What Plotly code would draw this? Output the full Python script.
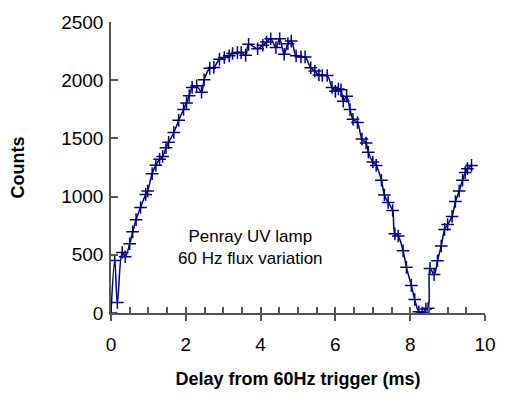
import plotly.graph_objects as go

delay_ms = [0.00, 0.10, 0.17, 0.30, 0.38, 0.50, 0.58, 0.67, 0.79, 0.93, 0.98, 1.10,
            1.20, 1.30, 1.38, 1.47, 1.54, 1.68, 1.81, 1.94, 2.02, 2.09, 2.17, 2.29,
            2.42, 2.49, 2.64, 2.75, 2.90, 3.03, 3.16, 3.25, 3.38, 3.48, 3.60, 3.68,
            3.92, 4.06, 4.16, 4.27, 4.41, 4.51, 4.63, 4.73, 4.82, 4.95, 5.08, 5.19,
            5.34, 5.45, 5.56, 5.65, 5.78, 5.91, 6.00, 6.08, 6.15, 6.21, 6.30, 6.39,
            6.47, 6.59, 6.71, 6.82, 6.88, 7.00, 7.09, 7.23, 7.31, 7.41, 7.53, 7.59,
            7.68, 7.81, 7.90, 8.03, 8.12, 8.23, 8.32, 8.42, 8.48, 8.53, 8.64, 8.73,
            8.83, 8.92, 9.00, 9.12, 9.21, 9.31, 9.40, 9.47, 9.53, 9.64]
counts = [0, 450, 90, 520, 483, 595, 697, 802, 907, 1019, 1048, 1197,
          1270, 1320, 1345, 1420, 1466, 1551, 1655, 1748, 1805, 1867, 1938, 1952,
          1896, 2003, 2102, 2110, 2181, 2195, 2209, 2229, 2237, 2237, 2215, 2308,
          2270, 2300, 2328, 2356, 2280, 2356, 2223, 2314, 2336, 2209, 2200, 2200,
          2107, 2079, 2045, 2040, 2040, 1938, 1904, 1925, 1918, 1819, 1862, 1748,
          1664, 1636, 1494, 1460, 1381, 1297, 1268, 1141, 1014, 950, 880, 680,
          661, 534, 392, 237, 116, 11, 0, 35, 40, 383, 330, 449,
          576, 718, 760, 830, 958, 1048, 1141, 1206, 1240, 1268]

x_ticks = [0, 2, 4, 6, 8, 10]
y_ticks = [0, 500, 1000, 1500, 2000, 2500]

navy = "#000080"
axis_col = "#555555"
font_family = "Liberation Sans, Arial, sans-serif"

fig = go.Figure()
fig.add_trace(go.Scatter(
    x=delay_ms, y=counts, mode="lines+markers",
    line=dict(color=navy, width=1.5, shape="spline", smoothing=1),
    marker=dict(symbol="cross-thin", size=9, color=navy,
                line=dict(color=navy, width=1.5)),
    showlegend=False,
))
# invisible trace to activate minor-tick overlay axis
fig.add_trace(go.Scatter(x=[0, 10], y=[0, 0], xaxis="x2", mode="lines",
                         line=dict(width=0), hoverinfo="skip", showlegend=False))

fig.update_layout(
    width=508, height=398,
    margin=dict(l=111, r=12, t=15, b=85),
    paper_bgcolor="white", plot_bgcolor="white",
    font=dict(family=font_family, size=19, color="black"),
    xaxis=dict(range=[0, 10], tickvals=x_ticks, ticks="outside", ticklen=6,
               tickwidth=1.5, tickcolor=axis_col, showline=True, linecolor=axis_col,
               linewidth=1.5, showgrid=False, zeroline=False,
               tickfont=dict(size=19), ticklabelstandoff=7,
               title=dict(text="<b>Delay from 60Hz trigger (ms)</b>",
                          font=dict(size=18), standoff=19)),
    xaxis2=dict(range=[0, 10], overlaying="x", anchor="y", side="bottom",
                dtick=0.5, tick0=0, ticks="inside", ticklen=6, tickwidth=1.5,
                tickcolor=axis_col, showticklabels=False, showgrid=False,
                zeroline=False, showline=False),
    yaxis=dict(range=[0, 2500], tickvals=y_ticks, ticks="inside", ticklen=7,
               tickwidth=1.5, tickcolor=axis_col, showline=True, linecolor=axis_col,
               linewidth=1.5, showgrid=False, zeroline=False,
               tickfont=dict(size=19), ticklabelstandoff=2,
               title=dict(text="<b>Counts</b>", font=dict(size=18), standoff=32)),
    annotations=[dict(x=3.73, y=560, xref="x", yref="y",
                      text="Penray UV lamp<br>60 Hz flux variation",
                      showarrow=False, font=dict(size=17, color="black"),
                      align="center")],
)

fig.write_html("out.html")
